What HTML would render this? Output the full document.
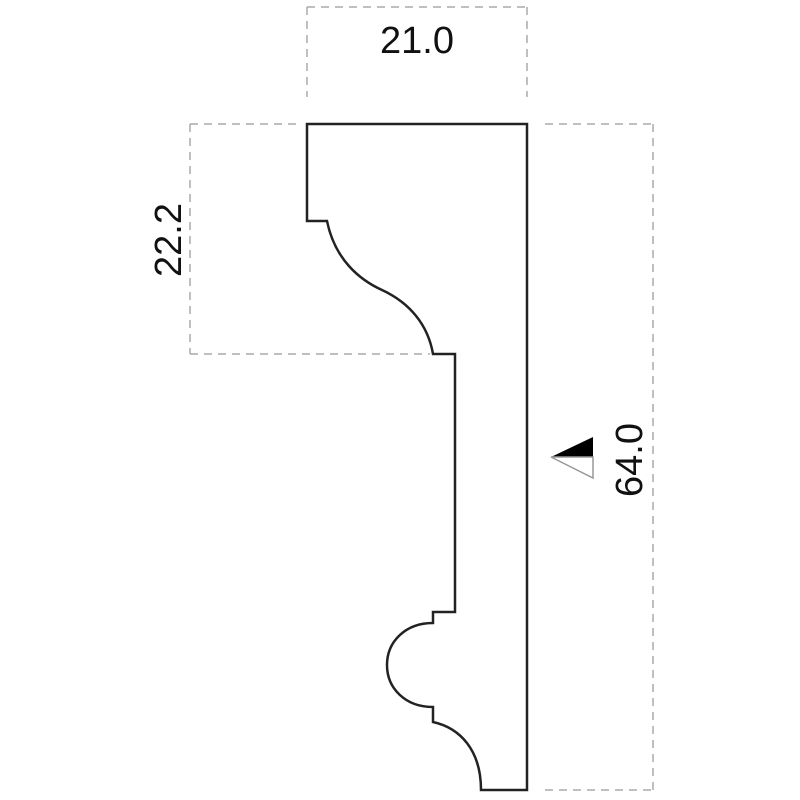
<!DOCTYPE html>
<html><head><meta charset="utf-8"><style>html,body{margin:0;padding:0;background:#fff}svg{display:block}</style></head>
<body>
<svg width="800" height="800" viewBox="0 0 800 800" xmlns="http://www.w3.org/2000/svg">
<g stroke="#aaa" stroke-width="1.5" stroke-dasharray="8,6" fill="none">
<path d="M307,7 H527"/><path d="M307,7 V97"/><path d="M527,7 V97"/>
<path d="M190,124 H302"/><path d="M190,354 H430"/><path d="M190,124 V354"/>
<path d="M545,124 H653"/><path d="M545,790 H653"/><path d="M653,124 V790"/>
</g>
<path d="M307,124 H527 V790 H481 C481,750 460,728 433,722 V707 C405,707 387,688 387,665 C387,642 405,623 433,623 V612 H455 V354 H433 C428,325 410,303 382,290 C360,280 335,260 327,221 H307 Z" fill="none" stroke="#222" stroke-width="2.5"/>
<polygon points="551,457 593,437 593,457" fill="#000"/>
<polygon points="551,457 593,457 593,478" fill="none" stroke="#999" stroke-width="1.5"/>
<g font-family="Liberation Sans, sans-serif" font-size="38" fill="#111" text-anchor="middle">
<text x="417" y="53">21.0</text>
<text transform="translate(181,240) rotate(-90)">22.2</text>
<text transform="translate(642,460) rotate(-90)">64.0</text>
</g>
</svg>
</body></html>
